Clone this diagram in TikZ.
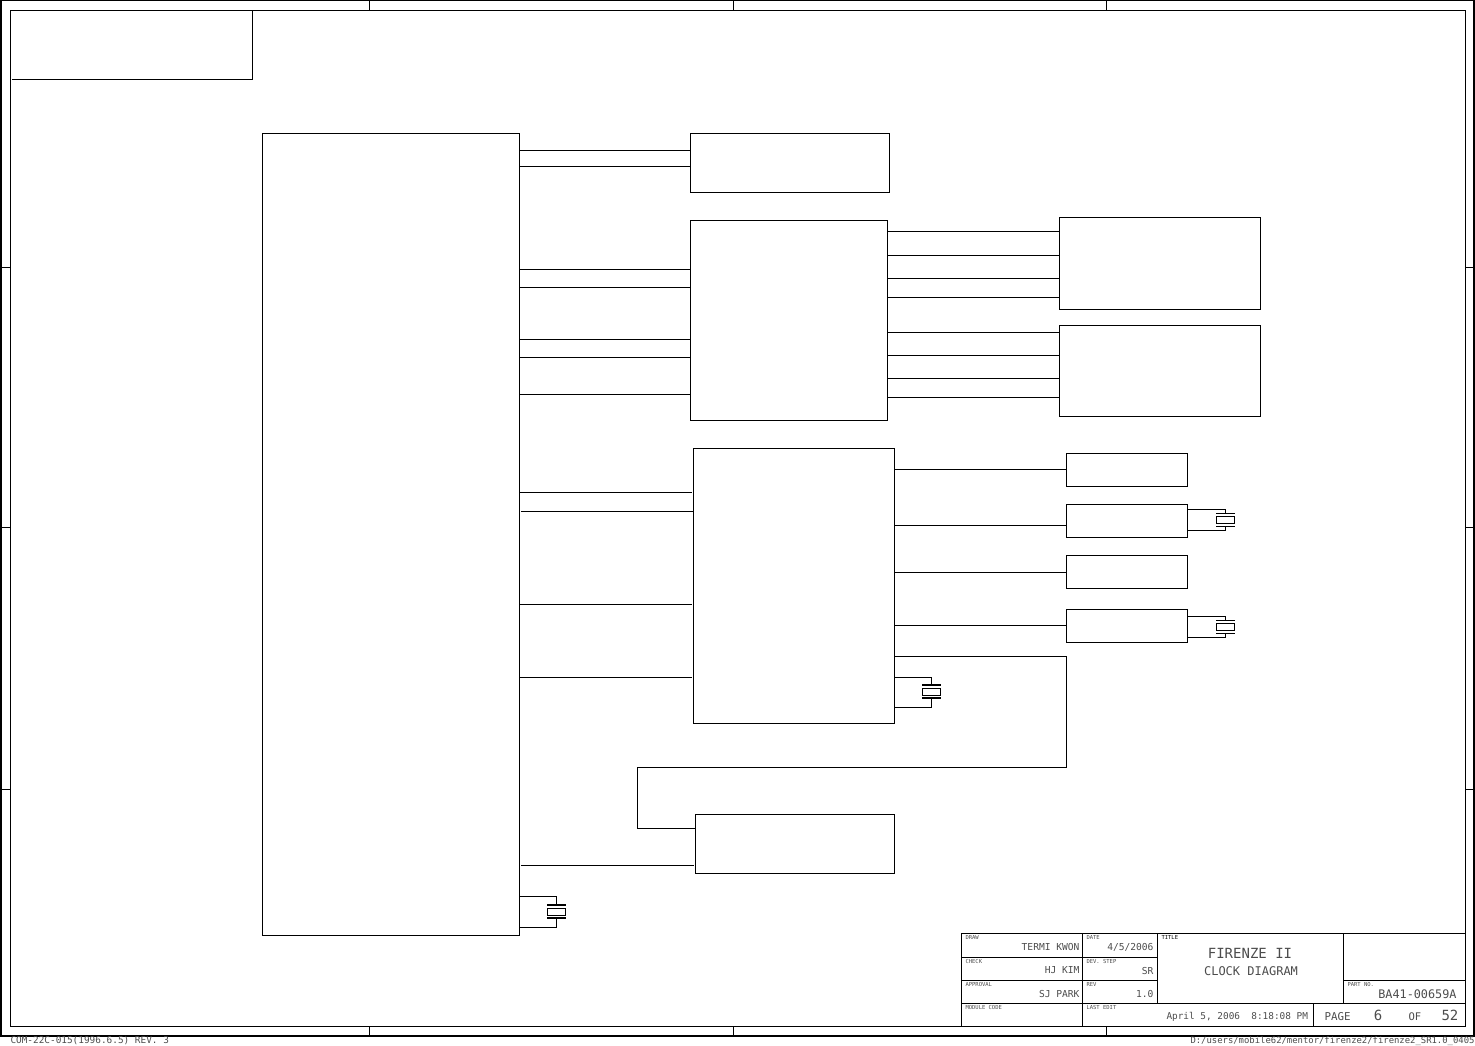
\documentclass[tikz,border=0pt]{standalone}
\usepackage{fontspec}
\setmainfont{DejaVu Sans Mono}
\tikzset{
        blockbox/.style={draw,anchor=north west,inner sep=0pt,outer sep=0pt},
        xtalbox/.style={draw,inner sep=0pt,outer sep=0pt,minimum width=18,minimum height=7},
        xtalplate/.style={line width=1.5pt},
        tinylabel/.style={anchor=north west,inner sep=0pt,text=black!70,font=\fontsize{5.5}{6}\selectfont},
        valuelabel/.style={anchor=east,inner sep=0pt,text=black!70,font=\fontsize{9.6}{11}\selectfont},
        sheetlabel/.style={anchor=west,inner sep=0pt,text=black!70,font=\fontsize{9.4}{10}\selectfont},
        bigtext/.style={inner sep=0pt,text=black!70,font=\fontsize{14}{15}\selectfont}
}
\newcommand{\xtal}[3]{%
        \node[xtalbox] (#1) at (#2,#3) {};
        \coordinate (#1-t) at (#2,#3-6.5);
        \coordinate (#1-b) at (#2,#3+6.5);
        \draw[xtalplate] (#2-9.5,#3-6.5) -- (#2+9.5,#3-6.5);
        \draw[xtalplate] (#2-9.5,#3+6.5) -- (#2+9.5,#3+6.5);
}
\begin{document}
\begin{tikzpicture}[x=1pt,y=-1pt,line width=1pt]
        \useasboundingbox (0,0) rectangle (1475,1046);
        \node[blockbox,line width=2pt,minimum width=1473,minimum height=1035] (outerframe) at (1,0.5) {};
        \node[blockbox,minimum width=1455,minimum height=1016] (innerframe) at (10.5,10.5) {};
        \foreach \x in {369,733,1106} {
                \draw (outerframe.north -| \x,0) -- (innerframe.north -| \x,0);
                \draw (outerframe.south -| \x,0) -- (innerframe.south -| \x,0);
        }
        \foreach \y in {267,527,789} {
                \draw (outerframe.west |- 0,\y) -- (innerframe.west |- 0,\y);
                \draw (outerframe.east |- 0,\y) -- (innerframe.east |- 0,\y);
        }
        \draw (252.5,10.5) -- (252.5,79.5) -- (12,79.5);

        \node[blockbox,minimum width=256.5,minimum height=802] (cpu) at (262.5,133.5) {};
        \node[blockbox,minimum width=199,minimum height=59] (memclk) at (690.5,133.5) {};
        \node[blockbox,minimum width=196.5,minimum height=200] (bufa) at (690.5,220.5) {};
        \node[blockbox,minimum width=201,minimum height=275] (gen) at (693.5,448.5) {};
        \node[blockbox,minimum width=199,minimum height=59] (bufb) at (695.5,814.5) {};
        \node[blockbox,minimum width=201,minimum height=92] (dimma) at (1059.5,217.5) {};
        \node[blockbox,minimum width=201,minimum height=91] (dimmb) at (1059.5,325.5) {};
        \node[blockbox,minimum width=121,minimum height=33] (devg) at (1066.5,453.5) {};
        \node[blockbox,minimum width=121,minimum height=33] (devh) at (1066.5,504.5) {};
        \node[blockbox,minimum width=121,minimum height=33] (devi) at (1066.5,555.5) {};
        \node[blockbox,minimum width=121,minimum height=33] (devj) at (1066.5,609.5) {};

        \foreach \y in {150.5,166.5}
                \draw (cpu.east |- 0,\y) -- (memclk.west |- 0,\y);
        \foreach \y in {269.5,287.5,339.5,357.5,394.5}
                \draw (cpu.east |- 0,\y) -- (bufa.west |- 0,\y);
        \foreach \y in {492.5,604.5,677.5}
                \draw (cpu.east |- 0,\y) -- ([xshift=-2]gen.west |- 0,\y);
        \draw ([xshift=2]cpu.east |- 0,511.5) -- (gen.west |- 0,511.5);
        \draw ([xshift=2]cpu.east |- 0,865.5) -- ([xshift=-2]bufb.west |- 0,865.5);
        \foreach \y in {231.5,255.5,278.5,297.5}
                \draw (bufa.east |- 0,\y) -- (dimma.west |- 0,\y);
        \foreach \y in {332.5,355.5,378.5,397.5}
                \draw (bufa.east |- 0,\y) -- (dimmb.west |- 0,\y);
        \draw (gen.east |- 0,469.5) -- (devg.west |- 0,469.5);
        \draw (gen.east |- 0,525.5) -- (devh.west |- 0,525.5);
        \draw (gen.east |- 0,572.5) -- (devi.west |- 0,572.5);
        \draw (gen.east |- 0,625.5) -- (devj.west |- 0,625.5);
        \draw (gen.east |- 0,656.5) -- (1066.5,656.5) -- (1066.5,767.5) -- (637.5,767.5) -- (637.5,828.5) -- (bufb.west |- 0,828.5);

        \xtal{xtalh}{1225.5}{520}
        \xtal{xtalj}{1225.5}{627}
        \xtal{xtalgen}{931.5}{691.5}
        \xtal{xtalcpu}{556.5}{911.5}
        \draw (devh.east |- 0,509) -| (xtalh-t);
        \draw (devh.east |- 0,530) -| (xtalh-b);
        \draw (devj.east |- 0,616) -| (xtalj-t);
        \draw (devj.east |- 0,637) -| (xtalj-b);
        \draw (gen.east |- 0,677) -| (xtalgen-t);
        \draw (gen.east |- 0,707) -| (xtalgen-b);
        \draw (cpu.east |- 0,896) -| (xtalcpu-t);
        \draw (cpu.east |- 0,927) -| (xtalcpu-b);

        \draw (961.5,1026) -- (961.5,933.5) -- (1465,933.5);
        \draw (961.5,1003.5) -- (1465,1003.5);
        \draw (961.5,957) -- (1157.5,957);
        \draw (961.5,980.5) -- (1157.5,980.5);
        \draw (1343.5,980.5) -- (1465,980.5);
        \draw (1082.5,933.5) -- (1082.5,1026);
        \draw (1157.5,933.5) -- (1157.5,1003.5);
        \draw (1343.5,933.5) -- (1343.5,1003.5);
        \draw (1313.5,1003.5) -- (1313.5,1026);

        \node[tinylabel] (drawlbl) at (965,935) {DRAW};
        \node[tinylabel] (checklbl) at (965,958.5) {CHECK};
        \node[tinylabel] (approvallbl) at (965,982) {APPROVAL};
        \node[tinylabel] (modulelbl) at (965,1005) {MODULE CODE};
        \node[tinylabel] (datelbl) at (1086,935) {DATE};
        \node[tinylabel] (steplbl) at (1086,958.5) {DEV. STEP};
        \node[tinylabel] (revlbl) at (1086,982) {REV};
        \node[tinylabel] (editlbl) at (1086,1005) {LAST EDIT};
        \node[tinylabel,text=black] (titlelbl) at (1161,935) {TITLE};
        \node[tinylabel] (partlbl) at (1347,982) {PART NO.};

        \node[valuelabel] (drawval) at (1080,947) {TERMI KWON};
        \node[valuelabel] (checkval) at (1080,970.5) {HJ KIM};
        \node[valuelabel] (approvalval) at (1080,994) {SJ PARK};
        \node[valuelabel] (dateval) at (1154,947) {4/5/2006};
        \node[valuelabel] (stepval) at (1154,970.5) {SR};
        \node[valuelabel] (revval) at (1154,994) {1.0};
        \node[bigtext] (titleval) at (1250,953) {FIRENZE II};
        \node[bigtext,font=\fontsize{12}{13}\selectfont] (subtitleval) at (1251,971) {CLOCK DIAGRAM};
        \node[bigtext,anchor=east,font=\fontsize{11.8}{13}\selectfont] (partval) at (1457,994) {BA41-00659A};
        \node[sheetlabel] (editval) at (1166,1017) {April 5, 2006\ \ 8:18:08 PM};
        \node[sheetlabel,font=\fontsize{10.8}{12}\selectfont] (pagelbl) at (1324,1017) {PAGE};
        \node[bigtext] (pageval) at (1378,1015.5) {6};
        \node[sheetlabel,font=\fontsize{10.5}{12}\selectfont] (oflbl) at (1408,1017) {OF};
        \node[bigtext,anchor=west] (pagesval) at (1441,1015.5) {52};
        \node[sheetlabel] (formlbl) at (10,1041) {COM-22C-015(1996.6.5) REV. 3};
        \node[sheetlabel,anchor=east,font=\fontsize{8.9}{10}\selectfont] (pathlbl) at (1475,1041) {D:/users/mobile62/mentor/firenze2/firenze2\_SR1.0\_0405};
\end{tikzpicture}
\end{document}
